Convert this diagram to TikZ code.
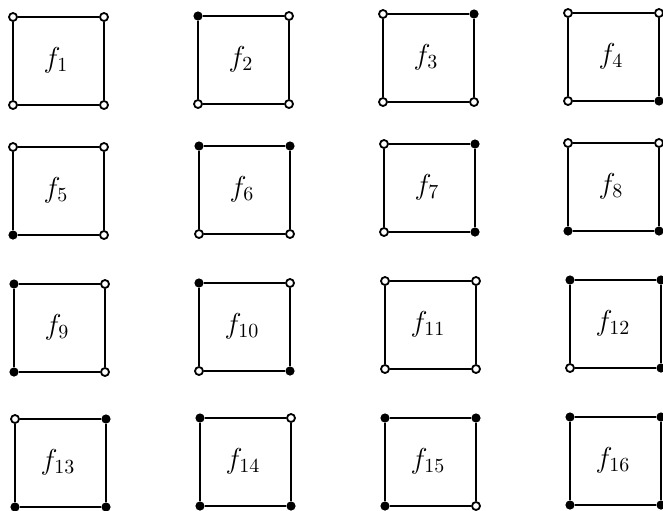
\documentclass[tikz,border=0pt]{standalone}
\usepackage{amsmath}
\usepackage{tikz}
\usetikzlibrary{positioning,calc}
\tikzset{
  vfull/.style={circle,fill=black,inner sep=0pt,minimum size=4.6pt},
  vopen/.style={circle,draw=black,fill=white,line width=.9pt,inner sep=0pt,minimum size=4pt},
  side/.style={line width=1.2pt,black},
  lab/.style={font=\Large},
}

\begin{document}
\begin{tikzpicture}[x=0.5pt,y=-0.5pt]
  \useasboundingbox (0,0) rectangle (663,510);
  % one cell per function: number/left/top/TL/TR/BL/BR
  \foreach \n/\x/\y/\p/\q/\r/\s in {
      1/13/17/vopen/vopen/vopen/vopen,
      2/198/16/vfull/vopen/vopen/vopen,
      3/383/14/vopen/vfull/vopen/vopen,
      4/568/13/vopen/vopen/vopen/vfull,
      5/13/147/vopen/vopen/vfull/vopen,
      6/199/146/vfull/vfull/vopen/vopen,
      7/384/144/vopen/vfull/vopen/vfull,
      8/568/143/vopen/vopen/vfull/vfull,
      9/14/284/vfull/vopen/vfull/vopen,
      10/199/283/vfull/vopen/vopen/vfull,
      11/385/281/vopen/vopen/vopen/vopen,
      12/570/280/vfull/vfull/vopen/vfull,
      13/15/419/vopen/vfull/vfull/vfull,
      14/200/418/vfull/vopen/vfull/vfull,
      15/385/418/vfull/vfull/vfull/vopen,
      16/570/417/vfull/vfull/vfull/vfull} {
    \node[\p] (tl\n) at (\x,\y) {};
    \node[\q] (tr\n) at (\x+91,\y) {};
    \node[\r] (bl\n) at (\x,\y+88) {};
    \node[\s] (br\n) at (\x+91,\y+88) {};
    \draw[side] (tl\n)--(tr\n);
    \draw[side] (tr\n)--(br\n);
    \draw[side] (br\n)--(bl\n);
    \draw[side] (bl\n)--(tl\n);
    \node[lab] (f\n) at (\x+43,\y+43) {$f_{\n}$};
  }
\end{tikzpicture}
\end{document}
